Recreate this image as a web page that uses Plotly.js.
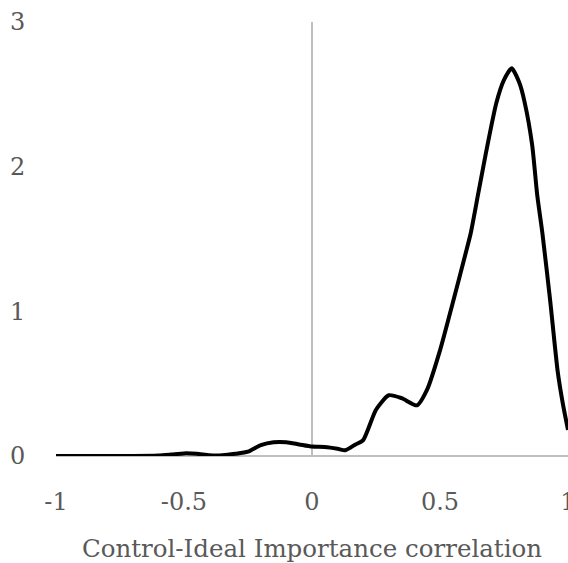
<!DOCTYPE html>
<html>
<head>
<meta charset="utf-8">
<script src="https://cdn.plot.ly/plotly-3.0.1.min.js"></script>
<style>html,body{margin:0;padding:0;background:#fff;}#chart{width:568px;height:563px;}</style>
</head>
<body>
<div id="chart"></div>
<script>
const xValues = [-1, -0.9, -0.8, -0.7, -0.6, -0.55, -0.5, -0.45, -0.4, -0.35, -0.3, -0.25, -0.2, -0.15, -0.1, -0.05, 0, 0.05, 0.1, 0.13, 0.17, 0.2, 0.25, 0.3, 0.35, 0.41, 0.45, 0.5, 0.55, 0.6, 0.62, 0.65, 0.68, 0.72, 0.75, 0.78, 0.81, 0.83, 0.86, 0.88, 0.9, 0.93, 0.96, 0.98, 1.0];
const densityValues = [0, 0, 0, 0, 0.003, 0.01, 0.018, 0.015, 0.005, 0.005, 0.015, 0.03, 0.075, 0.095, 0.095, 0.08, 0.065, 0.062, 0.05, 0.04, 0.08, 0.11, 0.32, 0.42, 0.40, 0.35, 0.46, 0.73, 1.06, 1.40, 1.54, 1.82, 2.1, 2.44, 2.6, 2.68, 2.58, 2.45, 2.15, 1.8, 1.54, 1.08, 0.58, 0.36, 0.18];
const xTicks = [-1, -0.5, 0, 0.5, 1];
const xTickLabels = ['-1', '-0.5', '0', '0.5', '1'];
const yTicks = [0, 1, 2, 3];
const yTickLabels = ['0', '1', '2', '3'];
const xTitle = 'Control-Ideal Importance correlation';

const fontFam = 'DejaVu Serif, Liberation Serif, serif';
const textColor = '#595959';

Plotly.newPlot('chart', [{
  x: xValues,
  y: densityValues,
  type: 'scatter',
  mode: 'lines',
  line: {color: '#000000', width: 4, shape: 'spline', smoothing: 0.6},
  hoverinfo: 'none'
}], {
  width: 568,
  height: 563,
  margin: {l: 56, r: 0, t: 22, b: 107},
  paper_bgcolor: '#ffffff',
  plot_bgcolor: '#ffffff',
  showlegend: false,
  xaxis: {
    range: [-1, 1],
    tickvals: xTicks,
    ticktext: xTickLabels,
    showgrid: false,
    zeroline: true,
    zerolinecolor: '#bfbfbf',
    zerolinewidth: 1.5,
    showline: false,
    ticks: 'outside',
    ticklen: 24,
    tickcolor: 'rgba(0,0,0,0)',
    ticklabeloverflow: 'allow',
    tickfont: {family: fontFam, size: 24, color: textColor},
    title: {text: xTitle, font: {family: fontFam, size: 24.5, color: textColor}, standoff: 26}
  },
  yaxis: {
    range: [0, 3],
    tickvals: yTicks,
    ticktext: yTickLabels,
    showgrid: false,
    zeroline: true,
    zerolinecolor: '#bfbfbf',
    zerolinewidth: 1.5,
    showline: false,
    ticks: 'outside',
    ticklen: 25,
    tickcolor: 'rgba(0,0,0,0)',
    ticklabeloverflow: 'allow',
    tickfont: {family: fontFam, size: 24, color: textColor}
  }
}, {staticPlot: true});
</script>
</body>
</html>
